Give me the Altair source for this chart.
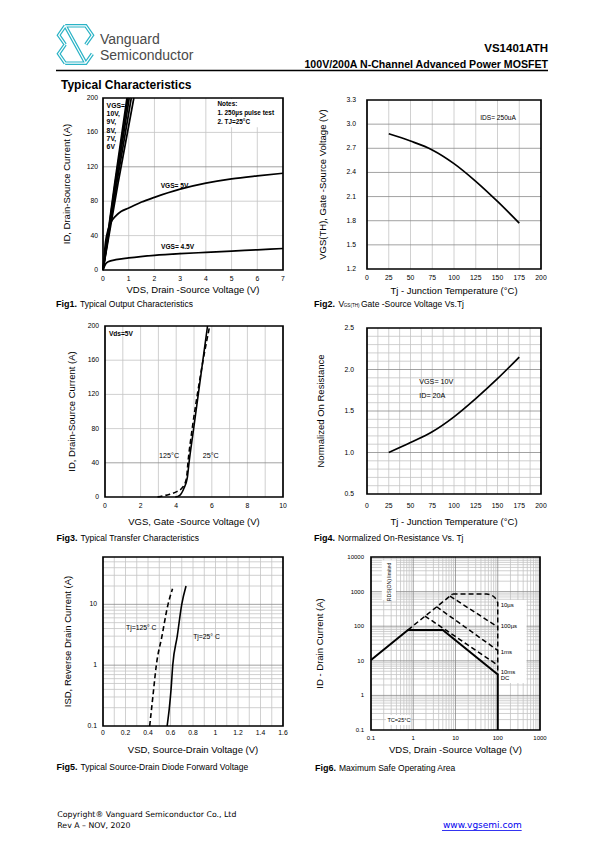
import altair as alt
import pandas as pd

# ------------------------------------------------------------------ data
# Fig1  Typical output characteristics  (VDS [V] -> ID [A])
f1_hi_names = ["10V", "9V", "8V", "7V", "6V"]
f1_hi_vds = [[0, 0.45, 0.93], [0, 0.47, 0.97], [0, 0.50, 1.02], [0, 0.53, 1.10], [0, 0.58, 1.20]]
f1_hi_id = [[0, 100, 200], [0, 100, 200], [0, 100, 200], [0, 100, 200], [0, 100, 200]]
f1_5v_vds = [0, 0.05, 0.1, 0.2, 0.3, 0.5, 0.7, 1.0, 1.5, 2.0, 3.0, 4.0, 5.0, 6.0, 7.0]
f1_5v_id = [0, 18, 33, 47, 55, 63, 68, 72, 79, 84.5, 94, 101, 106, 109.5, 112.5]
f1_45v_vds = [0, 0.1, 0.2, 0.5, 1, 2, 3, 4, 5, 6, 7]
f1_45v_id = [0, 7, 9.5, 12, 14, 17, 19, 20.5, 22, 23.5, 25]
f1_xticks = [0, 1, 2, 3, 4, 5, 6, 7]
f1_yticks = [0, 40, 80, 120, 160, 200]

# Fig2  VGS(TH) vs Tj
f2_tj = [25, 50, 75, 100, 125, 150, 175]
f2_vth = [2.88, 2.79, 2.68, 2.51, 2.29, 2.04, 1.77]
f2_xticks = [0, 25, 50, 75, 100, 125, 150, 175, 200]
f2_yticks = [1.2, 1.5, 1.8, 2.1, 2.4, 2.7, 3.0, 3.3]

# Fig3  Transfer characteristics (VGS [V] -> ID [A])
f3_25_vgs = [3.95, 4.2, 4.43, 4.62, 4.72, 4.98, 5.24, 5.5, 5.76]
f3_25_id = [0, 2, 10, 22, 40, 80, 120, 160, 200]
f3_125_vgs = [2.95, 3.3, 3.6, 4.0, 4.35, 4.58, 4.66, 4.9, 5.19, 5.51, 5.88]
f3_125_id = [0, 1.5, 3, 6, 11, 22, 40, 80, 120, 160, 200]
f3_xticks = [0, 2, 4, 6, 8, 10]
f3_yticks = [0, 40, 80, 120, 160, 200]

# Fig4  Normalized on-resistance vs Tj
f4_tj = [25, 50, 75, 100, 125, 150, 175]
f4_rds = [1.0, 1.12, 1.25, 1.43, 1.65, 1.89, 2.15]
f4_xticks = [0, 25, 50, 75, 100, 125, 150, 175, 200]
f4_yticks = [0.5, 1.0, 1.5, 2.0, 2.5]

# Fig5  Source-drain diode forward voltage (VSD [V] -> ISD [A])
f5_125_vsd = [0.415, 0.443, 0.474, 0.524, 0.578, 0.618]
f5_125_isd = [0.1, 0.3, 1, 3, 10, 18]
f5_25_vsd = [0.57, 0.59, 0.605, 0.62, 0.66, 0.70, 0.738]
f5_25_isd = [0.1, 0.2, 0.4, 1, 3, 10, 20]
f5_xticks = [0, 0.2, 0.4, 0.6, 0.8, 1, 1.2, 1.4, 1.6]
f5_yticks = [0.1, 1, 10]

# Fig6  Safe operating area (VDS [V] -> ID [A])
f6_dc_v = [0.1, 0.75, 5, 100, 100]
f6_dc_i = [10.5, 78, 78, 4, 0.1]
f6_lim_v = [0.75, 8.5]
f6_lim_i = [78, 850]
f6_10us_v = [8.5, 55, 70, 85, 100, 100]
f6_10us_i = [850, 850, 810, 680, 480, 4]
f6_100us_v = [7.4, 100]
f6_100us_i = [740, 95]
f6_1ms_v = [3.57, 100]
f6_1ms_i = [365, 20]
f6_10ms_v = [1.89, 100]
f6_10ms_i = [197, 7.5]
f6_xticks = [0.1, 1, 10, 100, 1000]
f6_yticks = [0.1, 1, 10, 100, 1000, 10000]

# ------------------------------------------------------------------ layout helpers
W, H = 579, 826
M = 8
FONT = "Liberation Sans, Arial, Helvetica, sans-serif"
LIGHT = "#c4c4c4"
DARK = "#8a8a8a"


class Panel:
    def __init__(self, x0, x1, y0, y1, xdom, ydom, xtype="linear", ytype="linear"):
        self.x0, self.x1, self.y0, self.y1 = x0, x1, y0, y1
        self.xdom, self.ydom = xdom, ydom
        kx = dict(type=xtype, domain=xdom, range=[x0 - M, x1 - M], nice=False)
        ky = dict(type=ytype, domain=ydom, range=[y1 - M, y0 - M], nice=False)
        if xtype == "linear":
            kx["zero"] = False
        if ytype == "linear":
            ky["zero"] = False
        self.xs = alt.Scale(**kx)
        self.ys = alt.Scale(**ky)
        self.layers = []

    def X(self, f):
        return alt.X(f, type="quantitative", scale=self.xs, axis=None)

    def Y(self, f):
        return alt.Y(f, type="quantitative", scale=self.ys, axis=None)

    def vgrid(self, vals, color, width=0.8):
        df = pd.DataFrame({"v": vals, "lo": self.ydom[0], "hi": self.ydom[1]})
        self.layers.append(alt.Chart(df).mark_rule(color=color, strokeWidth=width).encode(
            x=self.X("v"), y=self.Y("lo"), y2="hi"))

    def hgrid(self, vals, color, width=0.8):
        df = pd.DataFrame({"v": vals, "lo": self.xdom[0], "hi": self.xdom[1]})
        self.layers.append(alt.Chart(df).mark_rule(color=color, strokeWidth=width).encode(
            y=self.Y("v"), x=self.X("lo"), x2="hi"))

    def box(self, xa, xb, ya, yb):
        df = pd.DataFrame({"xa": [xa], "xb": [xb], "ya": [ya], "yb": [yb]})
        self.layers.append(alt.Chart(df).mark_rect(color="white").encode(
            x=self.X("xa"), x2="xb", y=self.Y("ya"), y2="yb"))

    def line(self, xv, yv, dash=None, width=1.6, interp="monotone"):
        df = pd.DataFrame({"x": xv, "y": yv, "i": list(range(len(xv)))})
        kw = dict(color="black", strokeWidth=width, interpolate=interp)
        if dash:
            kw["strokeDash"] = dash
        self.layers.append(alt.Chart(df).mark_line(**kw).encode(
            x=self.X("x"), y=self.Y("y"), order="i:Q"))

    def text(self, xv, yv, txt, size=7, weight="normal", align="center",
             baseline="middle", **kw):
        df = pd.DataFrame({"x": [xv], "y": [yv]})
        self.layers.append(alt.Chart(df).mark_text(
            text=txt, fontSize=size, fontWeight=weight, align=align, baseline=baseline,
            font=FONT, color="black", **kw).encode(x=self.X("x"), y=self.Y("y")))

    def xlabels(self, values, fmt, dy, size=6.8):
        df = pd.DataFrame({"v": values, "lo": self.ydom[0]})
        self.layers.append(alt.Chart(df).mark_text(
            fontSize=size, font=FONT, color="black", align="center", baseline="middle",
            dy=dy).encode(x=self.X("v"), y=self.Y("lo"), text=alt.Text("v:Q", format=fmt)))

    def ylabels(self, values, fmt, pad, size=6.8):
        df = pd.DataFrame({"v": values, "lo": self.xdom[0]})
        self.layers.append(alt.Chart(df).mark_text(
            fontSize=size, font=FONT, color="black", align="right", baseline="middle",
            dx=-pad).encode(y=self.Y("v"), x=self.X("lo"), text=alt.Text("v:Q", format=fmt)))

    def frame(self):
        df = pd.DataFrame({"a": [self.xdom[0]], "b": [self.xdom[1]],
                           "c": [self.ydom[0]], "d": [self.ydom[1]]})
        self.layers.append(alt.Chart(df).mark_rect(
            fillOpacity=0, stroke="black", strokeWidth=1.7).encode(
            x=self.X("a"), x2="b", y=self.Y("c"), y2="d"))

    def chart(self):
        return alt.layer(*self.layers)


def ptext(txt, x, y, size, weight="normal", align="left", color="black", font=FONT,
          baseline="middle", angle=0):
    return alt.Chart(pd.DataFrame({"t": [txt]})).mark_text(
        align=align, baseline=baseline, font=font, fontSize=size, fontWeight=weight,
        color=color, angle=angle).encode(text="t:N", x=alt.value(x - M), y=alt.value(y - M))


def prule(x1, x2, y, color="black", width=1.5):
    return alt.Chart(pd.DataFrame({"a": [0]})).mark_rule(color=color, strokeWidth=width).encode(
        x=alt.value(x1 - M), x2=alt.value(x2 - M), y=alt.value(y - M))


def titles(p, xt, xt_y, yt, yt_x):
    return [ptext(xt, (p.x0 + p.x1) / 2, xt_y, 9.5, align="center"),
            ptext(yt, yt_x, (p.y0 + p.y1) / 2, 9.5, align="center", angle=270)]


# ------------------------------------------------------------------ Fig1
p1 = Panel(103, 283, 98, 270, [0, 7], [0, 200])
p1.vgrid([1, 2, 3, 4, 5, 6], LIGHT)
p1.hgrid([40, 80, 160], LIGHT)
p1.hgrid([120], DARK)
p1.box(4.4, 6.85, 166, 199)
p1.box(2.2, 3.4, 91, 104)
p1.box(2.25, 3.55, 21, 32)
for vv, ii in zip(f1_hi_vds, f1_hi_id):
    p1.line(vv, ii, width=1.7, interp="linear")
p1.line(f1_5v_vds, f1_5v_id, width=1.7)
p1.line(f1_45v_vds, f1_45v_id, width=1.7)
p1.text(0.14, 194.5, ["VGS=", "10V,", "9V,", "8V,", "7V,", "6V"], size=6.8, weight="bold",
        align="left", baseline="top", lineHeight=8.3)
p1.text(4.45, 196, ["Notes:", "1. 250µs pulse test", "2. TJ=25°C"], size=6.4, weight="bold",
        align="left", baseline="top", lineHeight=8.8)
p1.text(2.78, 97.7, "VGS= 5V", size=6.6, weight="bold")
p1.text(2.9, 26.4, "VGS= 4.5V", size=6.6, weight="bold")
p1.xlabels(f1_xticks, "d", 9)
p1.ylabels(f1_yticks, "d", 5)
p1.frame()

# ------------------------------------------------------------------ Fig2
p2 = Panel(367, 541, 100, 269, [0, 200], [1.2, 3.3])
p2.vgrid([25, 50, 75, 100, 125, 150, 175], LIGHT)
p2.hgrid([1.5, 1.8, 2.1, 2.4, 2.7, 3.0], DARK)
p2.line(f2_tj, f2_vth, width=1.7)
p2.text(150.6, 3.08, "IDS= 250uA", size=6.6)
p2.xlabels(f2_xticks, "d", 9.3)
p2.ylabels(f2_yticks, ".1f", 11)
p2.frame()

# ------------------------------------------------------------------ Fig3
p3 = Panel(105, 283, 326, 497, [0, 10], [0, 200])
p3.vgrid([1, 2, 3, 4, 5, 6, 7, 8, 9], LIGHT)
p3.hgrid([80, 120, 160], LIGHT)
p3.hgrid([40], DARK)
p3.line(f3_125_vgs, f3_125_id, dash=[5, 3], width=1.6)
p3.line(f3_25_vgs, f3_25_id, width=1.6)
p3.text(0.22, 190.6, "Vds=5V", size=6.6, weight="bold", align="left")
p3.text(3.6, 48, "125°C", size=7.2)
p3.text(5.94, 48, "25°C", size=7.2)
p3.xlabels(f3_xticks, "d", 9)
p3.ylabels(f3_yticks, "d", 6)
p3.frame()

# ------------------------------------------------------------------ Fig4
p4 = Panel(367, 541, 328, 494, [0, 200], [0.5, 2.5])
p4.vgrid([12.5 * k for k in range(1, 16)], LIGHT)
p4.hgrid([0.6, 0.7, 0.8, 0.9, 1.1, 1.2, 1.3, 1.4, 1.6, 1.7, 1.8, 1.9, 2.1, 2.2, 2.3, 2.4], LIGHT)
p4.hgrid([1.0, 1.5, 2.0], DARK)
p4.line(f4_tj, f4_rds, width=1.7)
p4.text(60, 1.85, "VGS= 10V", size=7.2, align="left")
p4.text(60, 1.68, "ID= 20A", size=7.2, align="left")
p4.xlabels(f4_xticks, "d", 11.7)
p4.ylabels(f4_yticks, ".1f", 13)
p4.frame()

# ------------------------------------------------------------------ Fig5
p5 = Panel(103, 283, 557, 726, [0, 1.6], [0.1, 60], ytype="log")
p5.vgrid([0.1 * k for k in range(1, 16)], LIGHT)
p5.hgrid([0.2, 0.3, 0.4, 0.5, 0.6, 0.7, 0.8, 0.9, 2, 3, 4, 5, 6, 7, 8, 9, 20, 30, 40, 50], LIGHT)
p5.hgrid([1, 10], DARK)
p5.line(f5_125_vsd, f5_125_isd, dash=[5, 3], width=1.6)
p5.line(f5_25_vsd, f5_25_isd, width=1.6)
p5.text(0.34, 4.1, "Tj=125° C", size=6.8)
p5.text(0.92, 2.93, "Tj=25° C", size=6.8)
p5.xlabels(f5_xticks, "~g", 7)
p5.ylabels(f5_yticks, "~g", 6)
p5.frame()

# ------------------------------------------------------------------ Fig6
p6 = Panel(371, 540, 557, 730, [0.1, 1000], [0.1, 10000], xtype="log", ytype="log")
minor = [m * 10 ** e for e in range(-1, 4) for m in range(2, 10)]
p6.vgrid([v for v in minor if v < 1000], LIGHT)
p6.hgrid(minor, LIGHT)
p6.vgrid([1, 10, 100], DARK)
p6.hgrid([1, 10, 100, 1000], DARK)
p6.box(0.18, 0.39, 575, 8000)
p6.box(106, 480, 2.3, 575)
p6.box(0.225, 0.83, 0.14, 0.27)
p6.line(f6_lim_v, f6_lim_i, dash=[5, 3], width=1.5, interp="linear")
p6.line(f6_10us_v, f6_10us_i, dash=[5, 3], width=1.5, interp="linear")
p6.line(f6_100us_v, f6_100us_i, dash=[5, 3], width=1.5, interp="linear")
p6.line(f6_1ms_v, f6_1ms_i, dash=[5, 3], width=1.5, interp="linear")
p6.line(f6_10ms_v, f6_10ms_i, dash=[5, 3], width=1.5, interp="linear")
p6.line(f6_dc_v, f6_dc_i, width=2, interp="linear")
p6.text(0.26, 1900, "RDS(ON) limited", size=5.2, angle=270)
p6.text(117, 412, "10µs", size=6, align="left")
p6.text(117, 100, "100µs", size=6, align="left")
p6.text(117, 17.8, "1ms", size=6, align="left")
p6.text(117, 4.7, "10ms", size=6, align="left")
p6.text(117, 3.1, "DC", size=6, align="left")
p6.text(0.46, 0.19, "TC=25°C", size=5.6)
p6.xlabels(f6_xticks, "~g", 8, size=6)
p6.ylabels(f6_yticks, "~g", 7, size=6)
p6.frame()

# ------------------------------------------------------------------ page text
logo_path = ("M -0.55 -1 L 0.55 -1 L 0.9 -0.5 L 0.55 0 "
             "M -0.55 -1 L -0.9 -0.5 L -0.55 0 "
             "M -0.55 -1 L 0.55 1 "
             "M -0.55 1 L 0.55 1 L 0.9 0.5 "
             "M -0.55 1 L -0.9 0.5 L -0.55 0")
logo_outer = alt.Chart(pd.DataFrame({"a": [0]})).mark_point(
    shape=logo_path, size=1400, filled=False, stroke="#2ab3c6", strokeWidth=3.6,
    opacity=1).encode(x=alt.value(75.5 - M), y=alt.value(44.5 - M))
logo_inner = alt.Chart(pd.DataFrame({"a": [0]})).mark_point(
    shape=logo_path, size=1400, filled=False, stroke="white", strokeWidth=1.2,
    opacity=1).encode(x=alt.value(75.5 - M), y=alt.value(44.5 - M))

page = [
    logo_outer, logo_inner,
    ptext("Vanguard", 100, 39.5, 14, color="#4a4a4a"),
    ptext("Semiconductor", 100, 56, 14, color="#4a4a4a"),
    ptext("VS1401ATH", 548, 49, 11.5, weight="bold", align="right"),
    ptext("100V/200A  N-Channel  Advanced  Power  MOSFET", 548, 64.5, 10.6, weight="bold",
          align="right"),
    prule(56, 548, 70.5, width=1.6),
    ptext("Typical Characteristics", 61, 85, 12, weight="bold"),
    # axis titles
    *titles(p1, "VDS, Drain -Source Voltage (V)", 290, "ID, Drain-Source Current (A)", 67),
    *titles(p2, "Tj - Junction Temperature (°C)", 291, "VGS(TH), Gate -Source Voltage (V)", 323),
    *titles(p3, "VGS, Gate -Source Voltage (V)", 522, "ID, Drain-Source Current (A)", 72),
    *titles(p4, "Tj - Junction Temperature (°C)", 522, "Normalized On Resistance", 321),
    *titles(p5, "VSD, Source-Drain Voltage (V)", 750, "ISD, Reverse Drain Current (A)", 68),
    *titles(p6, "VDS, Drain -Source Voltage (V)", 750, "ID - Drain Current (A)", 320),
    # captions
    ptext("Fig1.", 56, 303.5, 9, weight="bold"),
    ptext("Typical Output Characteristics", 80, 303.5, 8.5),
    ptext("Fig2.", 314, 303.5, 9, weight="bold"),
    ptext("V", 338.5, 303.5, 8.5),
    ptext("GS(TH)", 343.8, 305.5, 4.6),
    ptext("Gate -Source Voltage Vs.Tj", 361, 303.5, 8.5),
    ptext("Fig3.", 56.5, 537.7, 9, weight="bold"),
    ptext("Typical Transfer Characteristics", 80.5, 537.7, 8.5),
    ptext("Fig4.", 314, 537.7, 9, weight="bold"),
    ptext("Normalized On-Resistance Vs. Tj", 338, 537.7, 8.5),
    ptext("Fig5.", 56.5, 766.5, 9, weight="bold"),
    ptext("Typical Source-Drain Diode Forward Voltage", 80.5, 766.5, 8.5),
    ptext("Fig6.", 315, 767.5, 9, weight="bold"),
    ptext("Maximum Safe Operating Area", 339, 767.5, 8.5),
    # footer
    ptext("Copyright® Vanguard Semiconductor Co., Ltd", 57.3, 815, 7.8, font="DejaVu Sans"),
    ptext("Rev A – NOV, 2020", 57.3, 825.7, 7.8, font="DejaVu Sans"),
    ptext("www.vgsemi.com", 521.7, 825, 9, align="right", color="#0000ee", font="DejaVu Sans"),
    prule(442, 521.7, 830.5, color="#0000ee", width=0.8),
]

chart = alt.layer(
    p1.chart(), p2.chart(), p3.chart(), p4.chart(), p5.chart(), p6.chart(), *page
).resolve_scale(x="independent", y="independent").properties(
    width=W, height=H, padding=0, autosize=alt.AutoSizeParams(type="none")
).configure_view(strokeWidth=0)

chart.save("out.html", embed_options={"renderer": "svg", "actions": False})
